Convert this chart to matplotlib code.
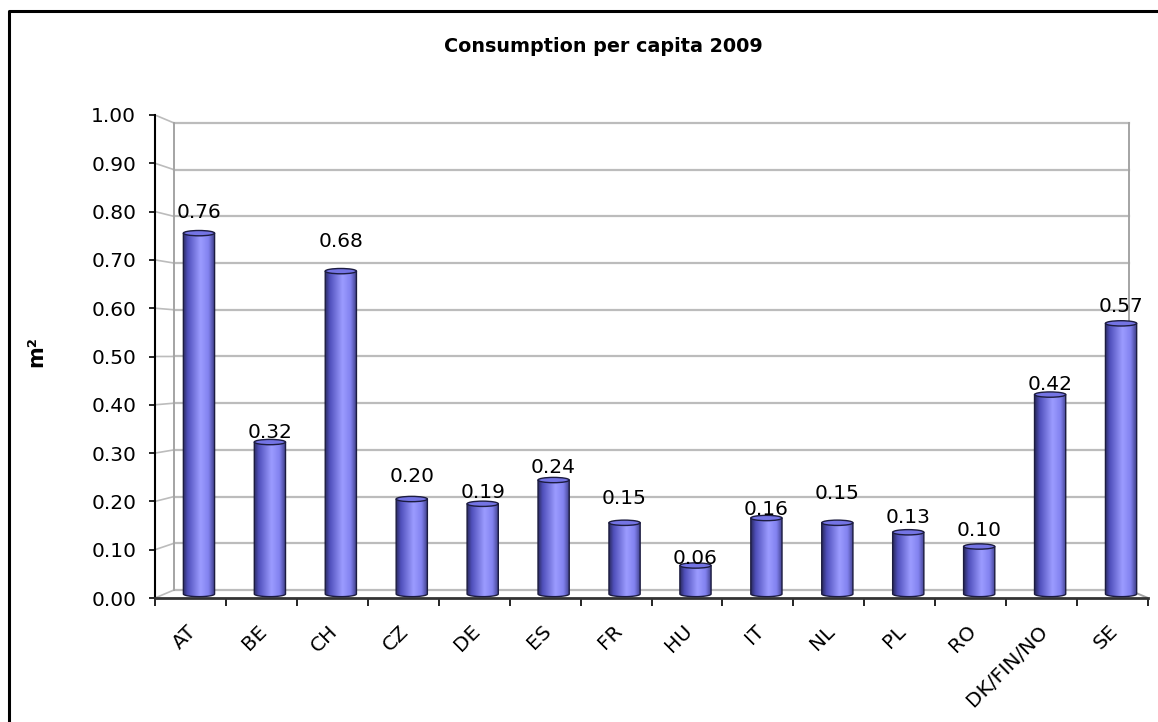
import matplotlib

matplotlib.use("Agg")

import matplotlib.pyplot as plt
import numpy as np
from matplotlib.colors import LinearSegmentedColormap
from matplotlib.lines import Line2D
from matplotlib.patches import Ellipse, PathPatch
from matplotlib.path import Path
from matplotlib.transforms import ScaledTranslation

COUNTRIES = ["AT", "BE", "CH", "CZ", "DE", "ES", "FR", "HU", "IT", "NL", "PL", "RO", "DK/FIN/NO", "SE"]
CONSUMPTION = [0.76, 0.32, 0.68, 0.20, 0.19, 0.24, 0.15, 0.06, 0.16, 0.15, 0.13, 0.10, 0.42, 0.57]
Y_TICKS = [0.0, 0.1, 0.2, 0.3, 0.4, 0.5, 0.6, 0.7, 0.8, 0.9, 1.0]

# how far (px) each value label sits above its cylinder, as Excel placed them
LABEL_LIFT = [21, 10, 30, 23, 11, 13, 24, 7, 9, 29, 15, 16, 10, 17]

W, H = 1158, 722
GRID = "#bcbcbc"
CYL_CMAP = LinearSegmentedColormap.from_list(
    "cyl",
    [(0.0, "#2a2a60"), (0.15, "#5050bc"), (0.55, "#9c9cff"), (0.8, "#8282f0"), (1.0, "#3a3a82")],
)

# pseudo 3d: back wall and bar depth expressed in front-axis units
BACK_DX = 0.268


def back(v):
    return 0.0166 + 0.9669 * v


def mid(v):
    return 0.0083 + 0.983 * v


def draw_cylinder(ax, xc, v, width=0.44, cap=0.011):
    x0, x1 = xc - width / 2, xc + width / 2
    yb, yt = mid(0), mid(v)
    theta = np.linspace(np.pi, 2 * np.pi, 40)
    bottom = list(zip(xc + width / 2 * np.cos(theta), yb + cap / 2 * np.sin(theta)))
    verts = [(x0, yt)] + bottom + [(x1, yt), (x0, yt)]
    body = PathPatch(Path(verts, closed=True), fc="none", ec="#1c1c40", lw=1.0, zorder=4)
    ax.add_patch(body)
    grad = np.linspace(0, 1, 256).reshape(1, -1)
    img = ax.imshow(grad, extent=(x0, x1, yb - cap, yt), aspect="auto", cmap=CYL_CMAP,
                    interpolation="bicubic", zorder=3)
    img.set_clip_path(body)
    ax.add_patch(Ellipse((xc, yt), width, cap, fc="#7474e4", ec="#1c1c40", lw=1.0, zorder=5))


fig = plt.figure(figsize=(W / 100, H / 100), dpi=100)
ax = fig.add_axes([155 / W, (H - 598) / H, 993 / W, 483 / H])
n = len(COUNTRIES)

# back wall gridlines and depth lines
x_back1 = n - BACK_DX
for v in Y_TICKS:
    ax.plot([BACK_DX, x_back1], [back(v), back(v)], color=GRID, lw=1.6, zorder=1)
    ax.plot([0, BACK_DX], [v, back(v)], color=GRID, lw=1.2, zorder=1)
ax.plot([BACK_DX, BACK_DX], [back(0), back(1)], color="#a4a4a4", lw=1.4, zorder=1)
ax.plot([x_back1, x_back1], [back(0), back(1)], color="#a4a4a4", lw=1.4, zorder=1)
ax.plot([n, x_back1], [0, back(0)], color="#a4a4a4", lw=1.4, zorder=1)

for i, v in enumerate(CONSUMPTION):
    xc = i + 0.5 + 0.12
    draw_cylinder(ax, xc, v)
    ax.annotate(f"{v:.2f}", (xc, mid(v)), xytext=(0, LABEL_LIFT[i]), textcoords="offset pixels",
                ha="center", va="center", fontsize=14.5, color="black", zorder=6)

ax.set_xlim(0, n)
ax.set_ylim(0, 1)
ax.set_yticks(Y_TICKS)
ax.set_yticklabels([f"{t:.2f}" for t in Y_TICKS], fontsize=14.5)
ax.set_xticks(np.arange(n + 1))
ax.set_xticklabels([])
ax.set_xticks(np.arange(n) + 0.5, minor=True)
ax.set_xticklabels(COUNTRIES, minor=True, fontsize=14.5, rotation=45, ha="right",
                   rotation_mode="anchor", va="top")
ax.tick_params(axis="x", which="minor", length=0, pad=17)
ax.tick_params(axis="x", which="major", length=5.5, width=1.2, direction="out")
ax.tick_params(axis="y", length=4.5, width=1.2, pad=9)
shift = ScaledTranslation(-0.04, 0, fig.dpi_scale_trans)
for lbl in ax.get_xticklabels(minor=True):
    lbl.set_transform(lbl.get_transform() + shift)

for side in ("top", "right"):
    ax.spines[side].set_visible(False)
ax.spines["left"].set_linewidth(1.5)
ax.spines["bottom"].set_linewidth(2.0)
ax.spines["bottom"].set_color("#333333")
ax.patch.set_visible(False)

fig.text(603 / W, 1 - 46 / H, "Consumption per capita 2009", ha="center", va="center",
         fontsize=13.8, fontweight="bold")
fig.text(36 / W, 1 - 352 / H, "m²", ha="center", va="center", rotation=90,
         fontsize=15, fontweight="bold")

fig.add_artist(Line2D([9 / W, 9 / W, 1.0], [0.0, 1 - 11 / H, 1 - 11 / H],
                      transform=fig.transFigure, color="black", lw=2.2))

fig.savefig("out.png", dpi=100)
